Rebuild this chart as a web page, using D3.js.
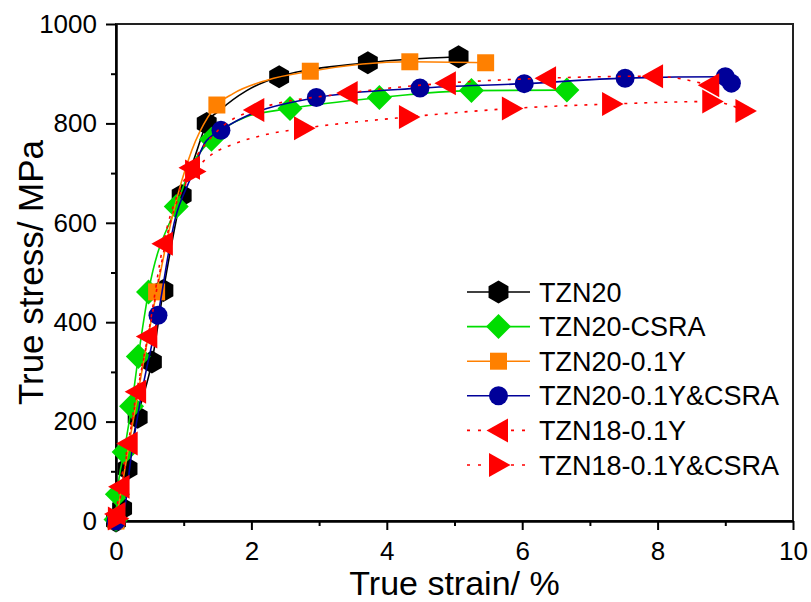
<!DOCTYPE html>
<html>
<head>
<meta charset="utf-8">
<script src="https://cdn.jsdelivr.net/npm/d3@7.9.0/dist/d3.min.js"></script>
<style>
  html, body { margin: 0; padding: 0; background: #fff; }
  svg { display: block; font-family: "Liberation Sans", Arial, sans-serif; }
</style>
</head>
<body>
<svg id="chart" width="811" height="602"></svg>
<script>
// tick values
const strainMajor = [0, 2, 4, 6, 8, 10];
const strainMinor = [1, 3, 5, 7, 9];
const stressMajor = [0, 200, 400, 600, 800, 1000];
const stressMinor = [100, 300, 500, 700, 900];

// [strain %, stress MPa] at the symbols
const tzn20Marks = [[0, 0], [0.09, 25], [0.17, 105], [0.32, 209], [0.53, 320], [0.70, 464],
  [0.97, 655], [1.34, 800], [2.41, 894], [3.72, 922], [5.06, 934]];
const csraMarks = [[0, 3], [0.02, 54], [0.12, 139], [0.23, 231], [0.33, 331], [0.48, 461],
  [0.89, 633], [1.41, 768], [2.57, 830], [3.89, 852], [5.25, 866], [6.66, 867]];
const y01Marks = [[0, 0], [0.60, 461], [1.49, 837], [2.87, 905], [4.34, 924], [5.46, 922]];
const y01CsraMarks = [[0, 0], [0.62, 414], [1.55, 786], [2.96, 852], [4.49, 871], [6.03, 880],
  [7.52, 891], [9.0, 894], [9.09, 881]];
const tzn18Marks = [[0, 14], [0.06, 69], [0.18, 156], [0.305, 260], [0.47, 371], [0.70, 558],
  [1.10, 711], [2.05, 827], [3.43, 861], [4.88, 881], [6.36, 891], [7.94, 895], [8.77, 877]];
const tzn18CsraMarks = [[0.02, 5], [1.16, 703], [2.77, 790], [4.32, 813], [5.84, 830],
  [7.32, 839], [8.80, 844], [9.29, 825]];

// extra points
const tzn20Curve = [[1.17, 735], [1.54, 827], [1.93, 866]];
const csraCurve = [[1.12, 715], [1.9, 812]];
const y01Curve = [[0.22, 176], [0.82, 606], [1.12, 746], [1.36, 813], [1.73, 860], [2.23, 887]];
const y01CsraCurve = [[0.13, 29], [0.21, 116], [0.36, 243], [0.87, 606], [1.09, 686], [1.31, 760]];
const tzn18Curve = [[1.5, 785]];
const tzn18CsraCurve = [[0.2, 170], [0.5, 390], [0.8, 600], [1.31, 726], [1.44, 740], [1.73, 758], [2.23, 778]];

const series = [
  { name: 'TZN20', marks: tzn20Marks, curve: tzn20Curve, color: '#000000', shape: 'hexagon', dash: null },
  { name: 'TZN20-CSRA', marks: csraMarks, curve: csraCurve, color: '#00dd00', shape: 'diamond', dash: null },
  { name: 'TZN20-0.1Y', marks: y01Marks, curve: y01Curve, color: '#ff8000', shape: 'square', dash: null },
  { name: 'TZN20-0.1Y&CSRA', marks: y01CsraMarks, curve: y01CsraCurve, color: '#000099', shape: 'circle', dash: null },
  { name: 'TZN18-0.1Y', marks: tzn18Marks, curve: tzn18Curve, color: '#ff0000', shape: 'left', dash: '3,7' },
  { name: 'TZN18-0.1Y&CSRA', marks: tzn18CsraMarks, curve: tzn18CsraCurve, color: '#ff0000', shape: 'right', dash: '3,7' }
];

const margin = { left: 116, right: 18, top: 24, bottom: 81 };
const W = 811, H = 602;
const svg = d3.select('#chart');

const x = d3.scaleLinear().domain([0, 10]).range([margin.left, W - margin.right]);
const y = d3.scaleLinear().domain([0, 1000]).range([H - margin.bottom, margin.top]);

// marker shapes centred on 0,0
function markerPath(shape) {
  if (shape === 'hexagon') {
    const r = 11.5;
    return d3.range(6).map(i => {
      const a = Math.PI / 2 + i * Math.PI / 3;
      return (i ? 'L' : 'M') + (r * Math.cos(a)).toFixed(2) + ',' + (r * Math.sin(a)).toFixed(2);
    }).join('') + 'Z';
  }
  if (shape === 'diamond') return 'M0,-12.5L12.5,0L0,12.5L-12.5,0Z';
  if (shape === 'square') return 'M-8.5,-8.5H8.5V8.5H-8.5Z';
  if (shape === 'circle') return 'M9.5,0A9.5,9.5 0 1,1 -9.5,0A9.5,9.5 0 1,1 9.5,0Z';
  if (shape === 'left') return 'M-12,0L9.5,-12L9.5,12Z';
  return 'M12,0L-9.5,-12L-9.5,12Z';
}

const line = d3.line()
  .x(d => x(d[0]))
  .y(d => y(d[1]))
  .curve(d3.curveMonotoneX);

// frame
svg.append('rect')
  .attr('x', x(0)).attr('y', y(1000))
  .attr('width', x(10) - x(0)).attr('height', y(0) - y(1000))
  .attr('fill', 'none').attr('stroke', '#222').attr('stroke-width', 2);

function styleAxis(g) {
  g.select('.domain').attr('stroke', '#000').attr('stroke-width', 2);
  g.selectAll('.tick line').attr('stroke', '#000').attr('stroke-width', 2);
  g.selectAll('.tick text').attr('fill', '#000').attr('font-size', 26)
    .attr('font-family', '"Liberation Sans", Arial, sans-serif');
}

svg.append('g')
  .attr('transform', `translate(${x(0)},0)`)
  .call(d3.axisLeft(y).tickValues(stressMinor).tickSize(5).tickFormat('').tickSizeOuter(0))
  .call(styleAxis);
svg.append('g')
  .attr('transform', `translate(${x(0)},0)`)
  .call(d3.axisLeft(y).tickValues(stressMajor).tickSize(10).tickPadding(9)
    .tickFormat(d3.format('d')).tickSizeOuter(0))
  .call(styleAxis);

svg.append('g')
  .attr('transform', `translate(0,${y(0)})`)
  .call(d3.axisBottom(x).tickValues(strainMinor).tickSize(5).tickFormat('').tickSizeOuter(0))
  .call(styleAxis);
svg.append('g')
  .attr('transform', `translate(0,${y(0)})`)
  .call(d3.axisBottom(x).tickValues(strainMajor).tickSize(9).tickPadding(12)
    .tickFormat(d3.format('d')).tickSizeOuter(0))
  .call(styleAxis);

// axis titles
svg.append('text')
  .attr('x', (x(0) + x(10)) / 2).attr('y', 595)
  .attr('text-anchor', 'middle').attr('font-size', 34)
  .text('True strain/ %');
svg.append('text')
  .attr('transform', `translate(43,${(y(0) + y(1000)) / 2}) rotate(-90)`)
  .attr('text-anchor', 'middle').attr('font-size', 35)
  .text('True stress/ MPa');

// curves and symbols
series.forEach(s => {
  const pts = d3.sort(s.marks.concat(s.curve), d => d[0]);
  svg.append('path')
    .attr('d', line(pts))
    .attr('fill', 'none')
    .attr('stroke', s.color)
    .attr('stroke-width', 1.6)
    .attr('stroke-dasharray', s.dash);
  svg.append('g').selectAll('path')
    .data(s.marks)
    .join('path')
    .attr('transform', d => `translate(${x(d[0])},${y(d[1])})`)
    .attr('d', markerPath(s.shape))
    .attr('fill', s.color);
});

// legend
const legend = svg.append('g').attr('transform', 'translate(467,292)');
series.forEach((s, i) => {
  const row = legend.append('g').attr('transform', `translate(0,${i * 34.6})`);
  row.append('line')
    .attr('x1', 0).attr('x2', 63)
    .attr('stroke', s.color).attr('stroke-width', 1.6)
    .attr('stroke-dasharray', s.dash ? '3,8' : null);
  row.append('path')
    .attr('transform', 'translate(31.5,0)')
    .attr('d', markerPath(s.shape))
    .attr('fill', s.color);
  row.append('text')
    .attr('x', 72).attr('y', 9.5)
    .attr('font-size', 27)
    .text(s.name);
});
</script>
</body>
</html>
